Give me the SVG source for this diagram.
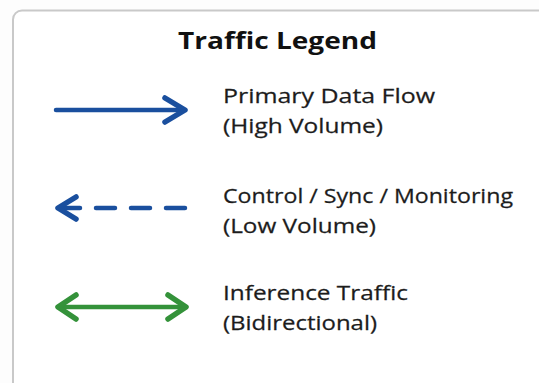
<svg xmlns="http://www.w3.org/2000/svg" width="539" height="383" viewBox="0 0 539 383">
  <style>
    .box{fill:#ffffff;stroke:#c9c9c9;stroke-width:2}
    .title{font-family:"Open Sans","Noto Sans","DejaVu Sans",sans-serif;font-weight:700;font-size:24px;fill:#111111}
    .lbl{font-family:"Open Sans","Noto Sans","DejaVu Sans",sans-serif;font-size:20px;fill:#1c1c1c;stroke:#1c1c1c;stroke-width:0.25}
    .blue{fill:none;stroke:#1a4f9e;stroke-width:4.5;stroke-linecap:round;stroke-linejoin:round}
    .green{fill:none;stroke:#34923a;stroke-width:4.5;stroke-linecap:round;stroke-linejoin:round}
    .head{stroke-width:5.5}
  </style>
  <rect width="539" height="383" fill="#fdfdfd"/>
  <rect class="box" x="13" y="10.5" width="540" height="382" rx="9"/>
  <text class="title" transform="translate(178,49) scale(1.18,1)" textLength="168.6" lengthAdjust="spacingAndGlyphs">Traffic Legend</text>
  <g id="connectors">
    <g id="primary-arrow">
      <path class="blue" d="M56,110 H184"/>
      <path class="blue head" d="M165,98 L185,110 L165,122"/>
    </g>
    <g id="control-arrow">
      <path class="blue" d="M185,208 H60" stroke-dasharray="19 16"/>
      <path class="blue head" d="M76,197 L58,208 L76,219"/>
    </g>
    <g id="inference-arrow">
      <path class="green" d="M58,307 H186"/>
      <path class="green head" d="M76,295 L58,307 L76,319"/>
      <path class="green head" d="M168,295 L186,307 L168,319"/>
    </g>
  </g>
  <g id="primary-label">
    <text class="lbl" transform="translate(223,103) scale(1.25,1)" textLength="169.6" lengthAdjust="spacingAndGlyphs">Primary Data Flow</text>
    <text class="lbl" transform="translate(223,133) scale(1.25,1)" textLength="128" lengthAdjust="spacingAndGlyphs">(High Volume)</text>
  </g>
  <g id="control-label">
    <text class="lbl" transform="translate(223,203) scale(1.25,1)" textLength="232" lengthAdjust="spacingAndGlyphs">Control / Sync / Monitoring</text>
    <text class="lbl" transform="translate(223,233) scale(1.25,1)" textLength="122.4" lengthAdjust="spacingAndGlyphs">(Low Volume)</text>
  </g>
  <g id="inference-label">
    <text class="lbl" transform="translate(223,300) scale(1.25,1)" textLength="148" lengthAdjust="spacingAndGlyphs">Inference Traffic</text>
    <text class="lbl" transform="translate(223,330) scale(1.25,1)" textLength="123.2" lengthAdjust="spacingAndGlyphs">(Bidirectional)</text>
  </g>
</svg>
